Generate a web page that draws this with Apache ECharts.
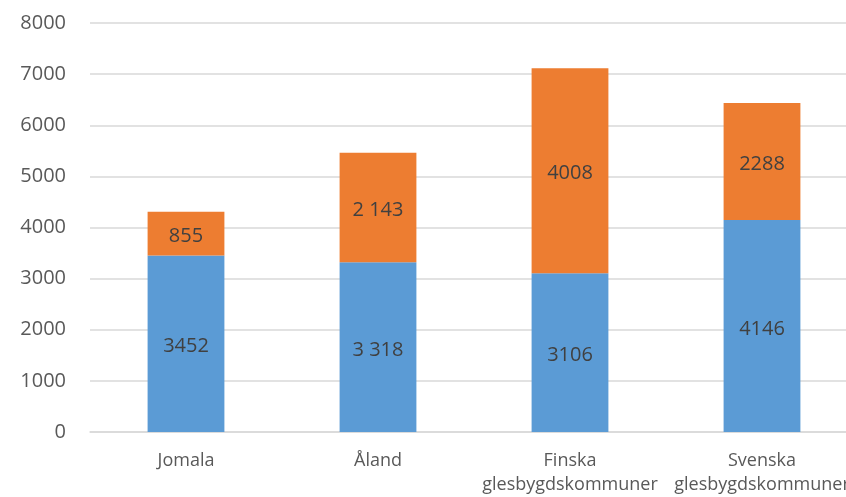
<!DOCTYPE html>
<html>
<head>
<meta charset="utf-8">
<script src="https://cdn.jsdelivr.net/npm/echarts@6/dist/echarts.min.js"></script>
<style>html,body{margin:0;padding:0;background:#fff;overflow:hidden;width:846px;height:497px;}#c{width:860px;height:497px;}</style>
</head>
<body>
<div id="c"></div>
<script>
var categories = ['Jomala', 'Åland', 'Finska\nglesbygdskommuner', 'Svenska\nglesbygdskommuner'];
var blueValues = [3452, 3318, 3106, 4146];
var orangeValues = [855, 2143, 4008, 2288];
var blueLabels = ['3452', '3 318', '3106', '4146'];
var orangeLabels = ['855', '2 143', '4008', '2288'];
var yTicks = [0, 1000, 2000, 3000, 4000, 5000, 6000, 7000, 8000];

var FONT = 'Open Sans';
var chart = echarts.init(document.getElementById('c'), null, {renderer: 'canvas'});
chart.setOption({
  animation: false,
  backgroundColor: '#ffffff',
  grid: {left: 90, top: 23, width: 768, height: 414, containLabel: false},
  xAxis: {
    type: 'category',
    data: categories,
    axisLine: {show: true, lineStyle: {color: '#d9d9d9', width: 1.5}},
    axisTick: {show: false},
    axisLabel: {color: '#595959', fontFamily: FONT, fontSize: 18, margin: 17, lineHeight: 24, interval: 0}
  },
  yAxis: {
    type: 'value',
    min: yTicks[0],
    max: yTicks[yTicks.length - 1],
    interval: 1000,
    axisLine: {show: false},
    axisTick: {show: false},
    splitLine: {lineStyle: {color: '#d9d9d9', width: 1.5}},
    axisLabel: {color: '#595959', fontFamily: FONT, fontSize: 20, margin: 24,
      formatter: function (v) { return String(v); }}
  },
  series: [
    {
      type: 'bar', stack: 's', data: blueValues, barWidth: '40%',
      itemStyle: {color: '#5b9bd5'},
      label: {show: true, position: 'inside', offset: [0, 3], color: '#404040', fontFamily: FONT, fontSize: 20,
        formatter: function (p) { return blueLabels[p.dataIndex]; }}
    },
    {
      type: 'bar', stack: 's', data: orangeValues, barWidth: '40%',
      itemStyle: {color: '#ed7d31'},
      label: {show: true, position: 'inside', offset: [0, 3], color: '#404040', fontFamily: FONT, fontSize: 20,
        formatter: function (p) { return orangeLabels[p.dataIndex]; }}
    }
  ]
});
</script>
</body>
</html>
